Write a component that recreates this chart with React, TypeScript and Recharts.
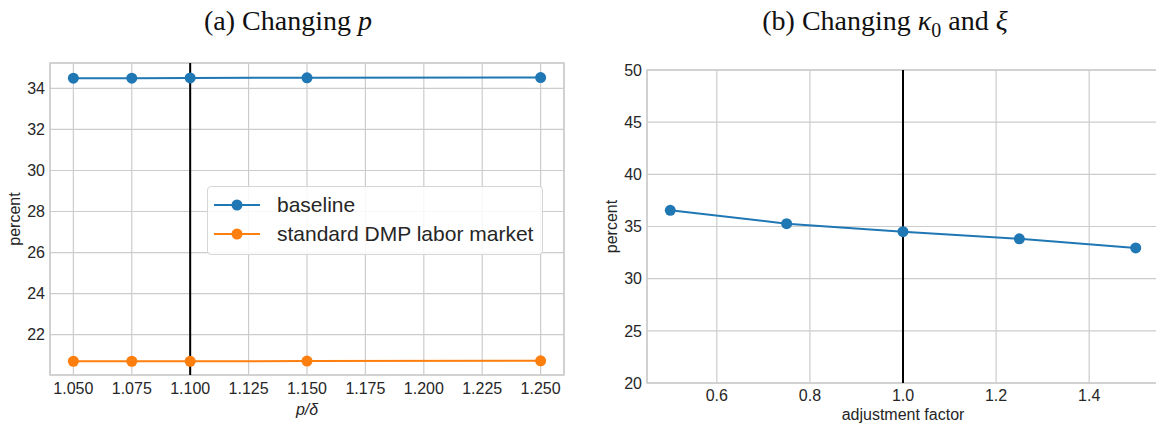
import React from 'react';
import { LineChart, Line, XAxis, YAxis, CartesianGrid, ReferenceLine, ReferenceArea, Legend, Label } from 'recharts';

// ---------- Panel (a): changing p ----------
const pRatio = [1.05, 1.075, 1.1, 1.15, 1.25];
const baselineA = [34.5, 34.5, 34.51, 34.52, 34.53];
const dmpA = [20.7, 20.7, 20.7, 20.71, 20.72];
const pTicks = [1.05, 1.075, 1.1, 1.125, 1.15, 1.175, 1.2, 1.225, 1.25];
const percentTicksA = [22, 24, 26, 28, 30, 32, 34];
const xDomainA: [number, number] = [1.04, 1.26];
const yDomainA: [number, number] = [20.03, 35.24];
const calibratedP = 1.1;

// ---------- Panel (b): changing kappa0 and xi ----------
const adjFactor = [0.5, 0.75, 1.0, 1.25, 1.5];
const baselineB = [36.55, 35.27, 34.5, 33.82, 32.95];
const adjTicks = [0.6, 0.8, 1.0, 1.2, 1.4];
const percentTicksB = [20, 25, 30, 35, 40, 45, 50];
const xDomainB: [number, number] = [0.45, 1.55];
const yDomainB: [number, number] = [20, 50];
const calibratedAdj = 1.0;

const seriesNames = ['baseline', 'standard DMP labor market'];
const BLUE = '#1f77b4';
const ORANGE = '#ff7f0e';
const GRID = '#cccccc';
const TEXT = '#262626';
const SANS = '"Liberation Sans", Arial, Helvetica, sans-serif';
const SERIF = '"Liberation Serif", "Times New Roman", serif';

const dataA = pRatio.map((x, i) => ({ x, baseline: baselineA[i], dmp: dmpA[i] }));
const dataB = adjFactor.map((x, i) => ({ x, baseline: baselineB[i] }));

const tickStyle = { fill: TEXT, fontSize: 16, fontFamily: SANS };

const LegendBox = (props: any) => {
  const payload = props.payload || [];
  return (
    <div
      style={{
        border: '1px solid #d6d6d6',
        borderRadius: 4,
        background: 'rgba(255,255,255,0.85)',
        padding: '3px 9px 6px 6px',
        fontFamily: SANS,
        fontSize: 21,
        color: TEXT,
        whiteSpace: 'nowrap',
      }}
    >
      {payload.map((p: any) => (
        <div key={p.value} style={{ display: 'flex', alignItems: 'center', height: 29 }}>
          <svg width={46} height={14} style={{ display: 'block' }}>
            <line x1={0} y1={7} x2={46} y2={7} stroke={p.color} strokeWidth={2} />
            <circle cx={23} cy={7} r={5.5} fill={p.color} />
          </svg>
          <span style={{ marginLeft: 17 }}>{p.value}</span>
        </div>
      ))}
    </div>
  );
};

export default function App() {
  return (
    <div
      style={{
        position: 'absolute',
        left: 0,
        top: 0,
        width: 1156,
        height: 428,
        overflow: 'hidden',
        background: '#ffffff',
      }}
    >
      {/* Titles */}
      <div
        style={{
          position: 'absolute',
          left: 0,
          top: 7,
          width: 576,
          textAlign: 'center',
          fontFamily: SERIF,
          fontSize: 28,
          lineHeight: '28px',
          color: '#111',
        }}
      >
        (a) Changing <i>p</i>
      </div>
      <div
        style={{
          position: 'absolute',
          left: 620,
          top: 7,
          width: 530,
          textAlign: 'center',
          fontFamily: SERIF,
          fontSize: 28,
          lineHeight: '28px',
          color: '#111',
        }}
      >
        (b) Changing <i>κ</i>
        <sub style={{ fontSize: 20, lineHeight: 0 }}>0</sub> and <i>ξ</i>
      </div>

      {/* Panel (a) */}
      <div style={{ position: 'absolute', left: 0, top: 0 }}>
        <LineChart width={580} height={428} data={dataA} margin={{ top: 63, right: 16, bottom: 0, left: 0 }}>
          <CartesianGrid stroke={GRID} strokeWidth={1.2} />
          <ReferenceArea
            x1={xDomainA[0]}
            x2={xDomainA[1]}
            y1={yDomainA[0]}
            y2={yDomainA[1]}
            fill="none"
            stroke={GRID}
            strokeWidth={1.5}
          />
          <XAxis
            type="number"
            dataKey="x"
            domain={xDomainA}
            ticks={pTicks}
            interval={0}
            allowDataOverflow
            tickFormatter={(v: number) => v.toFixed(3)}
            axisLine={false}
            tickLine={false}
            tickSize={0}
            tickMargin={8}
            height={53}
            tick={tickStyle}
          >
            <Label
              value="p/δ"
              position="insideBottom"
              offset={13}
              style={{ fill: TEXT, fontSize: 16, fontFamily: SANS, fontStyle: 'italic' }}
            />
          </XAxis>
          <YAxis
            type="number"
            domain={yDomainA}
            ticks={percentTicksA}
            interval={0}
            allowDataOverflow
            axisLine={false}
            tickLine={false}
            tickSize={0}
            tickMargin={5}
            width={50}
            tick={tickStyle}
          >
            <Label
              value="percent"
              angle={-90}
              position="insideLeft"
              offset={14}
              style={{ fill: TEXT, fontSize: 16, fontFamily: SANS, textAnchor: 'middle' }}
            />
          </YAxis>
          <ReferenceLine x={calibratedP} stroke="#000000" strokeWidth={2} />
          <Line
            type="linear"
            dataKey="baseline"
            name={seriesNames[0]}
            stroke={BLUE}
            strokeWidth={2}
            dot={{ r: 5.5, fill: BLUE, stroke: 'none' }}
            activeDot={false}
            isAnimationActive={false}
          />
          <Line
            type="linear"
            dataKey="dmp"
            name={seriesNames[1]}
            stroke={ORANGE}
            strokeWidth={2}
            dot={{ r: 5.5, fill: ORANGE, stroke: 'none' }}
            activeDot={false}
            isAnimationActive={false}
          />
          <Legend
            layout="vertical"
            align="center"
            verticalAlign="middle"
            content={<LegendBox />}
            wrapperStyle={{ left: 207, top: 186, width: 'auto', height: 'auto' }}
          />
        </LineChart>
      </div>

      {/* Panel (b) */}
      <div style={{ position: 'absolute', left: 580, top: 0 }}>
        <LineChart width={580} height={428} data={dataB} margin={{ top: 70, right: 1, bottom: 0, left: 0 }}>
          <CartesianGrid stroke={GRID} strokeWidth={1.2} />
          <ReferenceArea
            x1={xDomainB[0]}
            x2={xDomainB[1]}
            y1={yDomainB[0]}
            y2={yDomainB[1]}
            fill="none"
            stroke={GRID}
            strokeWidth={1.5}
          />
          <XAxis
            type="number"
            dataKey="x"
            domain={xDomainB}
            ticks={adjTicks}
            interval={0}
            allowDataOverflow
            tickFormatter={(v: number) => v.toFixed(1)}
            axisLine={false}
            tickLine={false}
            tickSize={0}
            tickMargin={7}
            height={45}
            tick={tickStyle}
          >
            <Label
              value="adjustment factor"
              position="insideBottom"
              offset={8}
              style={{ fill: TEXT, fontSize: 16, fontFamily: SANS }}
            />
          </XAxis>
          <YAxis
            type="number"
            domain={yDomainB}
            ticks={percentTicksB}
            interval={0}
            allowDataOverflow
            axisLine={false}
            tickLine={false}
            tickSize={0}
            tickMargin={5}
            width={67}
            tick={tickStyle}
          >
            <Label
              value="percent"
              angle={-90}
              position="insideLeft"
              offset={31}
              style={{ fill: TEXT, fontSize: 16, fontFamily: SANS, textAnchor: 'middle' }}
            />
          </YAxis>
          <ReferenceLine x={calibratedAdj} stroke="#000000" strokeWidth={2} />
          <Line
            type="linear"
            dataKey="baseline"
            name={seriesNames[0]}
            stroke={BLUE}
            strokeWidth={2}
            dot={{ r: 5.5, fill: BLUE, stroke: 'none' }}
            activeDot={false}
            isAnimationActive={false}
          />
        </LineChart>
      </div>
    </div>
  );
}
